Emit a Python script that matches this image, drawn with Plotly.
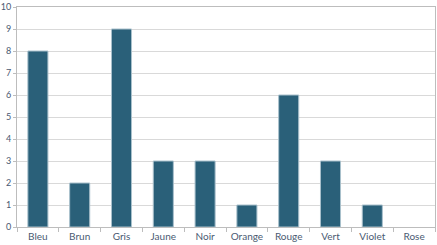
import plotly.graph_objects as go

categories = ["Bleu", "Brun", "Gris", "Jaune", "Noir", "Orange", "Rouge", "Vert", "Violet", "Rose"]
values = [8, 2, 9, 3, 3, 1, 6, 3, 1, 0]
y_ticks = list(range(0, 11))

fig = go.Figure(go.Bar(
    x=categories, y=values,
    marker=dict(color="#2a6079",
                line=dict(color="#a9c0cc", width=[1 if v > 0 else 0 for v in values])),
))
fig.update_layout(
    width=437, height=245,
    margin=dict(l=16, r=1, t=5, b=18),
    paper_bgcolor="white", plot_bgcolor="white",
    bargap=0.52, showlegend=False,
    font=dict(family="Lato", size=10, color="#4a5a72"),
)
fig.update_xaxes(
    showgrid=False, showline=True, linecolor="#bdbdbd", linewidth=1,
    mirror=True, ticks="outside", tickson="boundaries", ticklen=4,
    tickcolor="#bdbdbd", tickfont=dict(size=10),
)
fig.update_yaxes(
    range=[0, 10], tickvals=y_ticks, showgrid=True, gridcolor="#d9d9d9",
    showline=True, linecolor="#bdbdbd", linewidth=1, mirror=True,
    ticks="outside", ticklen=3, tickcolor="#bdbdbd", tickfont=dict(size=9),
    zeroline=False, fixedrange=True, ticklabeloverflow="allow",
)
fig.write_html("out.html")
